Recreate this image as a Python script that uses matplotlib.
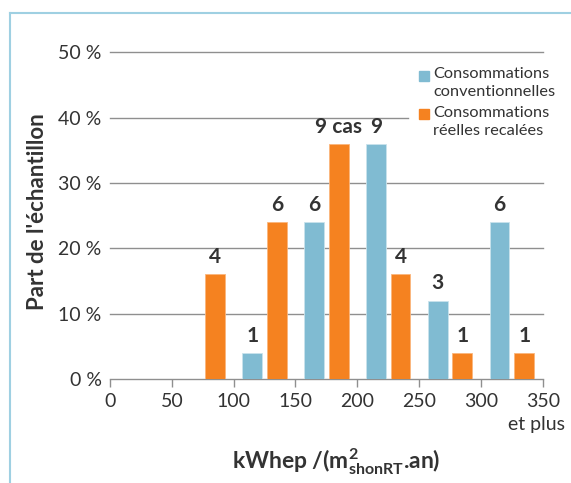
import matplotlib
matplotlib.use("Agg")
import matplotlib.pyplot as plt
from matplotlib.lines import Line2D
from matplotlib.patches import Rectangle

# ---- data ----
bin_starts = [0, 50, 100, 150, 200, 250, 300]
conv_pct = [0, 0, 4, 24, 36, 12, 24]        # Consommations conventionnelles (%)
conv_cases = [0, 0, 1, 6, 9, 3, 6]
reel_pct = [0, 16, 24, 36, 16, 4, 4]        # Consommations réelles recalées (%)
reel_cases = [0, 4, 6, 9, 4, 1, 1]
xticks = [0, 50, 100, 150, 200, 250, 300, 350]
yticks = [0, 10, 20, 30, 40, 50]
legend_labels = ["Consommations\nconventionnelles", "Consommations\nréelles recalées"]

BLUE = "#80bbd2"
ORANGE = "#f58220"
GRID = "#8f8f8f"
FRAME = "#9fd0e2"
TXT = "#333333"

FONT = 'Lato'
plt.rcParams['font.family'] = [FONT, 'DejaVu Sans']
plt.rcParams['mathtext.fontset'] = 'custom'
plt.rcParams['mathtext.rm'] = FONT + ':bold'
plt.rcParams['mathtext.bf'] = FONT + ':bold'
plt.rcParams['mathtext.it'] = FONT + ':bold'

W, H = 571, 483
fig = plt.figure(figsize=(W / 100, H / 100), dpi=100)
ax = fig.add_axes([110 / W, 1 - 379 / H, (542.7 - 110) / W, (379 - 52.3) / H])
ax.set_xlim(0, 350)
ax.set_ylim(0, 50)

# frame around figure
fig.add_artist(Line2D([9.5 / W, 9.5 / W], [0, 1 - 13 / H], transform=fig.transFigure, color=FRAME, lw=1.5))
fig.add_artist(Line2D([9.5 / W, 1], [1 - 13 / H, 1 - 13 / H], transform=fig.transFigure, color=FRAME, lw=1.5))

# gridlines (40 % line interrupted by legend)
for y in yticks[1:]:
    xmax = 241 if y == 40 else 350
    ax.plot([0, xmax], [y, y], color=GRID, lw=1.0, zorder=1, clip_on=False)

bw = 16
for b, cp, cc, rp, rc in zip(bin_starts, conv_pct, conv_cases, reel_pct, reel_cases):
    if cp > 0:
        ax.bar(b + 15, cp, width=bw, color=BLUE, edgecolor="#c9e3ec", linewidth=0.6, zorder=3)
        ax.text(b + 15, cp + 1.1, str(cc), ha="center", va="bottom", fontsize=15,
                fontweight="bold", color=TXT)
    if rp > 0:
        ax.bar(b + 35, rp, width=bw, color=ORANGE, edgecolor="#fbb67c", linewidth=0.6, zorder=3)
        lab = f"{rc} cas" if rc == 9 else str(rc)
        ax.text(b + 35, rp + 1.1, lab, ha="center", va="bottom", fontsize=15,
                fontweight="bold", color=TXT)

for s in ["top", "right", "left"]:
    ax.spines[s].set_visible(False)
ax.spines["bottom"].set_color(GRID)
ax.spines["bottom"].set_linewidth(1.0)
ax.set_xticks(xticks)
ax.set_xticklabels([str(t) for t in xticks], fontsize=14, color=TXT)
ax.set_yticks(yticks)
ax.set_yticklabels([f"{t} %" for t in yticks], fontsize=14, color=TXT)
ax.tick_params(axis="x", length=6, width=1, color=GRID, pad=4)
ax.tick_params(axis="y", length=0, pad=6)
ax.text(1.0 + (565 - 542.7) / (542.7 - 110), -0.14, "et plus", transform=ax.transAxes,
        ha="right", va="center", fontsize=14, color=TXT)

fig.text(38 / W, 1 - 212 / H, "Part de l'échantillon", rotation=90, ha="center", va="center",
         fontsize=16, fontweight="bold", color=TXT)
fig.text(336 / W, 1 - 462 / H, r"kWhep /(m$^{2}_{\mathrm{shonRT}}$.an)", ha="center", va="center",
         fontsize=16.5, fontweight="bold", color=TXT)

# legend
for i, (lab, col) in enumerate(zip(legend_labels, [BLUE, ORANGE])):
    sq_top = 70.7 + i * 38
    fig.add_artist(Rectangle((419.3 / W, 1 - (sq_top + 10) / H), 10 / W, 10 / H,
                             transform=fig.transFigure, color=col))
    fig.text(433 / W, 1 - (83 + i * 39) / H, lab, ha="left", va="center", fontsize=11.8,
             color=TXT, linespacing=1.3)

fig.savefig("out.png", dpi=100)
